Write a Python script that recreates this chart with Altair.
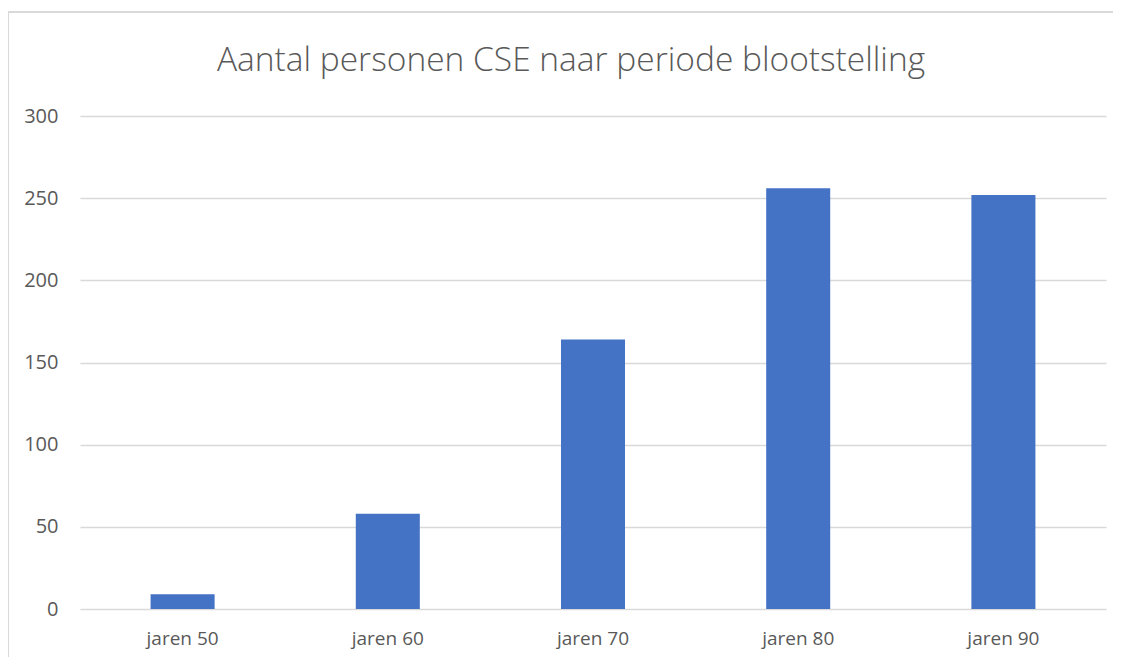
import altair as alt
import pandas as pd

categories = ["jaren 50", "jaren 60", "jaren 70", "jaren 80", "jaren 90"]
values = [9, 58, 164, 256, 252]
y_ticks = [0, 50, 100, 150, 200, 250, 300]
title_text = "Aantal personen CSE naar periode blootstelling"

df = pd.DataFrame({"periode": categories, "aantal": values})

FONT = "Open Sans"
GREY = "#595959"

bars = alt.Chart(df).mark_bar(color="#4472C4").encode(
    x=alt.X("periode:N", sort=categories,
            scale=alt.Scale(paddingInner=0.688, paddingOuter=0.344),
            axis=alt.Axis(title=None, labelAngle=0, domain=False, ticks=False,
                          labelPadding=20, labelFontSize=19, labelColor=GREY,
                          labelFont=FONT)),
    y=alt.Y("aantal:Q", scale=alt.Scale(domain=[0, 300], nice=False),
            axis=alt.Axis(title=None, values=y_ticks, domain=False, ticks=False,
                          labelPadding=22, labelFontSize=20, labelColor=GREY,
                          labelFont=FONT, gridColor="#d9d9d9", gridWidth=1.3)),
)

frame = alt.Chart(df).mark_rect(fill="transparent", stroke="#d9d9d9", strokeWidth=1.3, clip=False).encode(
    x=alt.value(-72), x2=alt.value(1200), y=alt.value(-104), y2=alt.value(700)
)

title = alt.Chart(pd.DataFrame({"t": [title_text]})).mark_text(
    font=FONT, fontSize=33.5, fontWeight=300, color=GREY, align="center",
    baseline="alphabetic", clip=False
).encode(text="t:N", x=alt.value(491), y=alt.value(-45))

chart = alt.layer(frame, bars, title).properties(
    width=1026,
    height=493,
    autosize=alt.AutoSizeParams(type="none"),
    padding={"left": 72, "top": 108, "right": 7, "bottom": 48},
).configure_view(stroke=None)

chart.save("out.html", embed_options={"renderer": "svg", "actions": False})
